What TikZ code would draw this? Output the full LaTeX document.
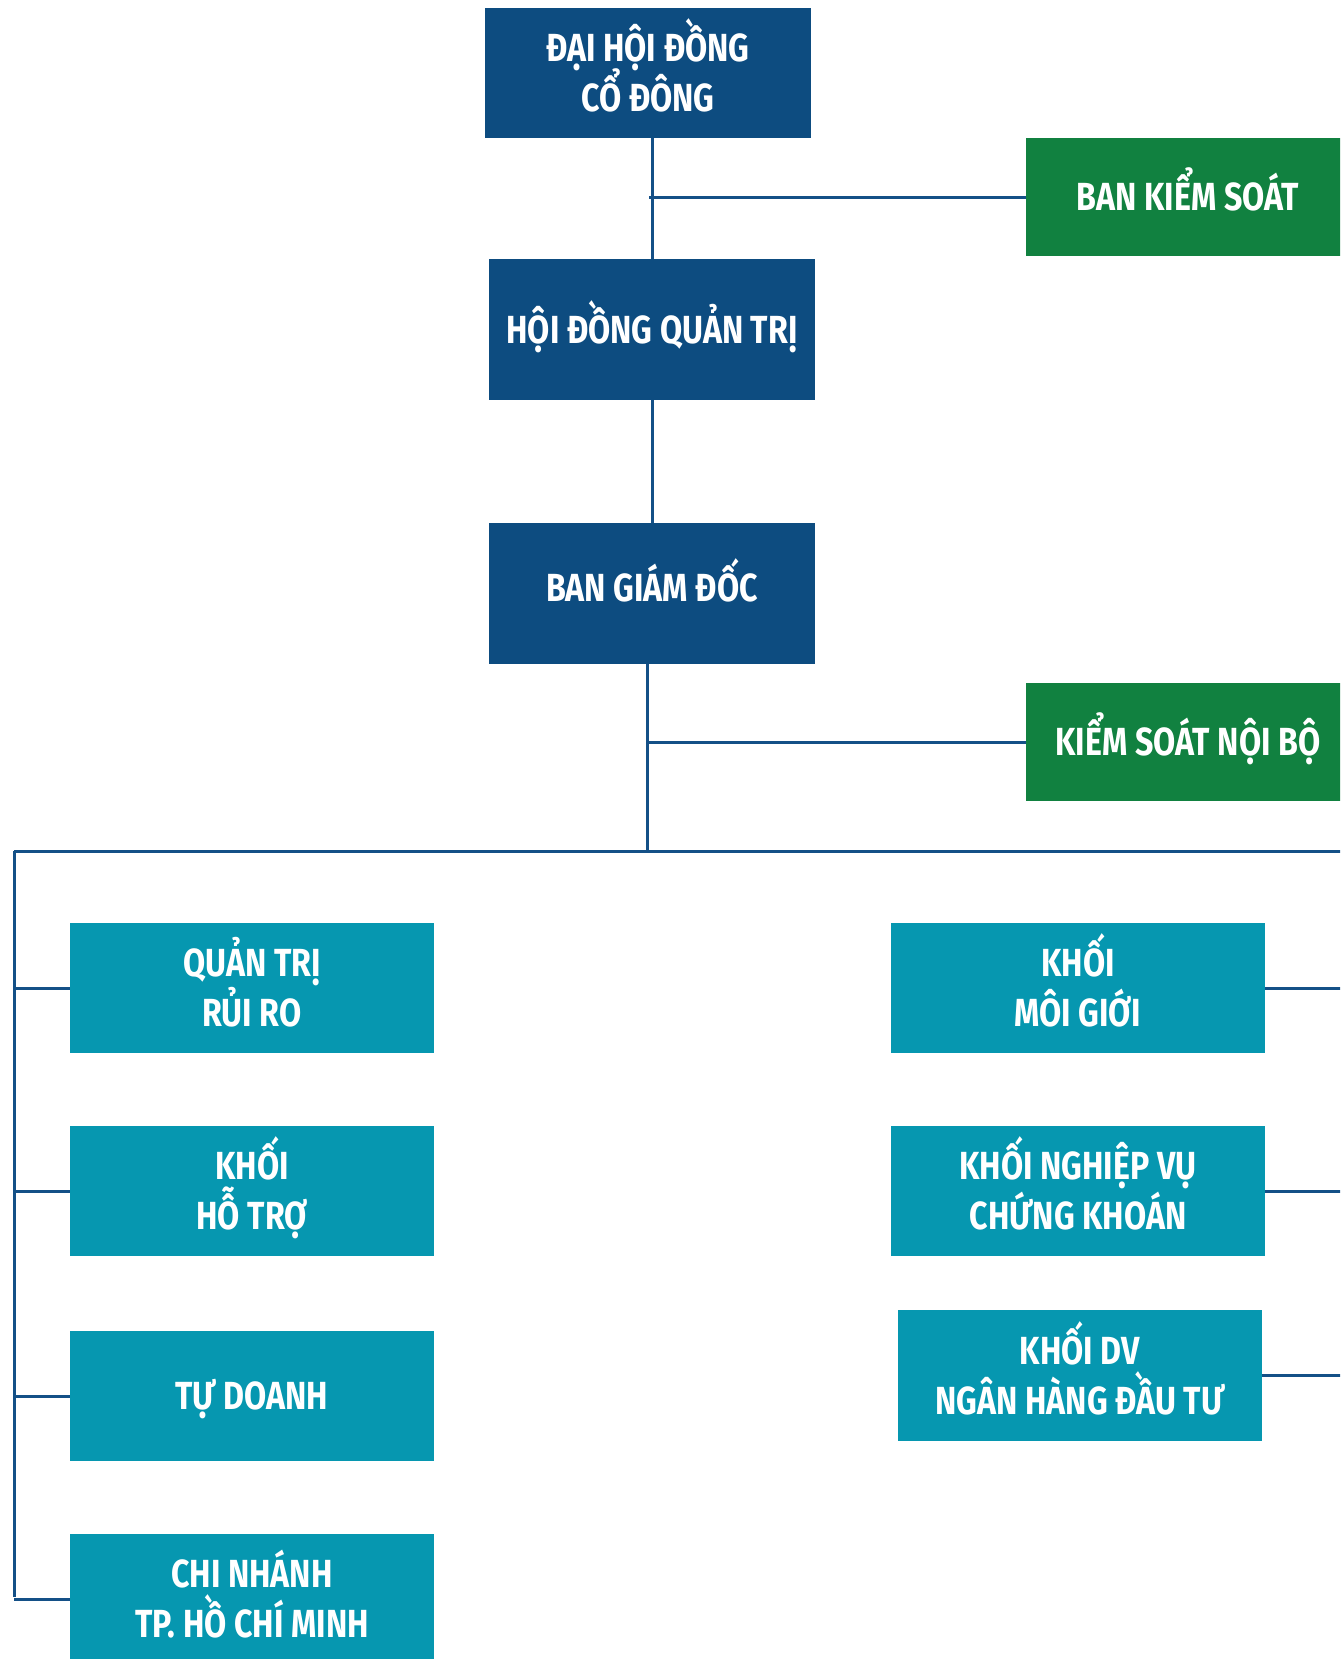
\documentclass[tikz,border=0pt]{standalone}
\usepackage{fontspec}
\setmainfont{Fira Sans}[FakeStretch=0.82]
\definecolor{dblue}{RGB}{13,76,128}
\definecolor{kgreen}{RGB}{17,129,64}
\definecolor{teal}{RGB}{6,151,176}
\definecolor{lineblue}{RGB}{20,80,135}
\newcommand\orgfont{\fontsize{19.6}{25}\selectfont\bfseries\lineskiplimit=-100pt\relax}
\tikzset{
  orgbox/.style={inner sep=0pt, text=white, align=center,
    font=\orgfont, text height=13.5pt, text depth=0pt},
  twoline/.style={text height=38.5pt, text depth=0pt},
  bluebox/.style={orgbox, fill=dblue},
  greenbox/.style={orgbox, fill=kgreen},
  tealbox/.style={orgbox, fill=teal},
  conn/.style={draw=lineblue, line width=1.5pt}
}
\begin{document}
\begin{tikzpicture}[x=0.5pt,y=-0.5pt]
\useasboundingbox (0,0) rectangle (1340,1659);
\clip (0,0) rectangle (1340,1659);
% boxes
\node[bluebox, twoline, minimum width=163pt, minimum height=65pt] (dhdcd) at (648,73) {ĐẠI HỘI ĐỒNG\\CỔ ĐÔNG};
\node[greenbox, minimum width=162pt, minimum height=59pt] (bks) at (1188,197) {BAN KIỂM SOÁT};
\node[bluebox, minimum width=163pt, minimum height=70.5pt] (hdqt) at (652,329.5) {HỘI ĐỒNG QUẢN TRỊ};
\node[bluebox, minimum width=163pt, minimum height=70.5pt, text depth=5.5pt] (bgd) at (652,593.5) {BAN GIÁM ĐỐC};
\node[greenbox, minimum width=162pt, minimum height=59pt] (ksnb) at (1188,742) {KIỂM SOÁT NỘI BỘ};
\node[tealbox, twoline, minimum width=182pt, minimum height=65pt] (qtrr) at (252,988) {QUẢN TRỊ\\RỦI RO};
\node[tealbox, twoline, minimum width=182pt, minimum height=65pt] (khht) at (252,1191) {KHỐI\\HỖ TRỢ};
\node[tealbox, minimum width=182pt, minimum height=65pt] (td) at (252,1396) {TỰ DOANH};
\node[tealbox, twoline, minimum width=182pt, minimum height=65pt] (cn) at (252,1599) {CHI NHÁNH\\TP. HỒ CHÍ MINH};
\node[tealbox, twoline, minimum width=187pt, minimum height=65pt] (kmg) at (1078,988) {KHỐI\\MÔI GIỚI};
\node[tealbox, twoline, minimum width=187pt, minimum height=65pt] (knvck) at (1078,1191) {KHỐI NGHIỆP VỤ\\CHỨNG KHOÁN};
\node[tealbox, twoline, minimum width=182pt, minimum height=65.5pt] (kdv) at (1080,1375.5) {KHỐI DV\\NGÂN HÀNG ĐẦU TƯ};
% helper coordinates
\coordinate (j1) at (649,197);
\coordinate (bus) at (647,851);
\coordinate (busL) at (14,851);
\coordinate (busR) at (1345,851);
\coordinate (leftEnd) at (14,1597);
\coordinate (rightEdge) at (1345,0);
% connectors
\draw[conn] (hdqt.north) -- (hdqt.north |- dhdcd.south);
\draw[conn] (j1) -- (bks.west);
\draw[conn] (bgd.north) -- (bgd.north |- hdqt.south);
\draw[conn] (bgd.south -| bus) -- (bus);
\draw[conn] (bus |- ksnb.west) -- (ksnb.west);
\draw[conn] (busL) -- (busR);
\draw[conn] (busL) -- (leftEnd);
\draw[conn] (busL |- qtrr.west) -- (qtrr.west);
\draw[conn] (busL |- khht.west) -- (khht.west);
\draw[conn] (busL |- td.west) -- (td.west);
\draw[conn] (busL |- cn.west) -- (cn.west);
\draw[conn] (kmg.east) -- (rightEdge |- kmg.east);
\draw[conn] (knvck.east) -- (rightEdge |- knvck.east);
\draw[conn] (kdv.east) -- (rightEdge |- kdv.east);
\end{tikzpicture}
\end{document}
